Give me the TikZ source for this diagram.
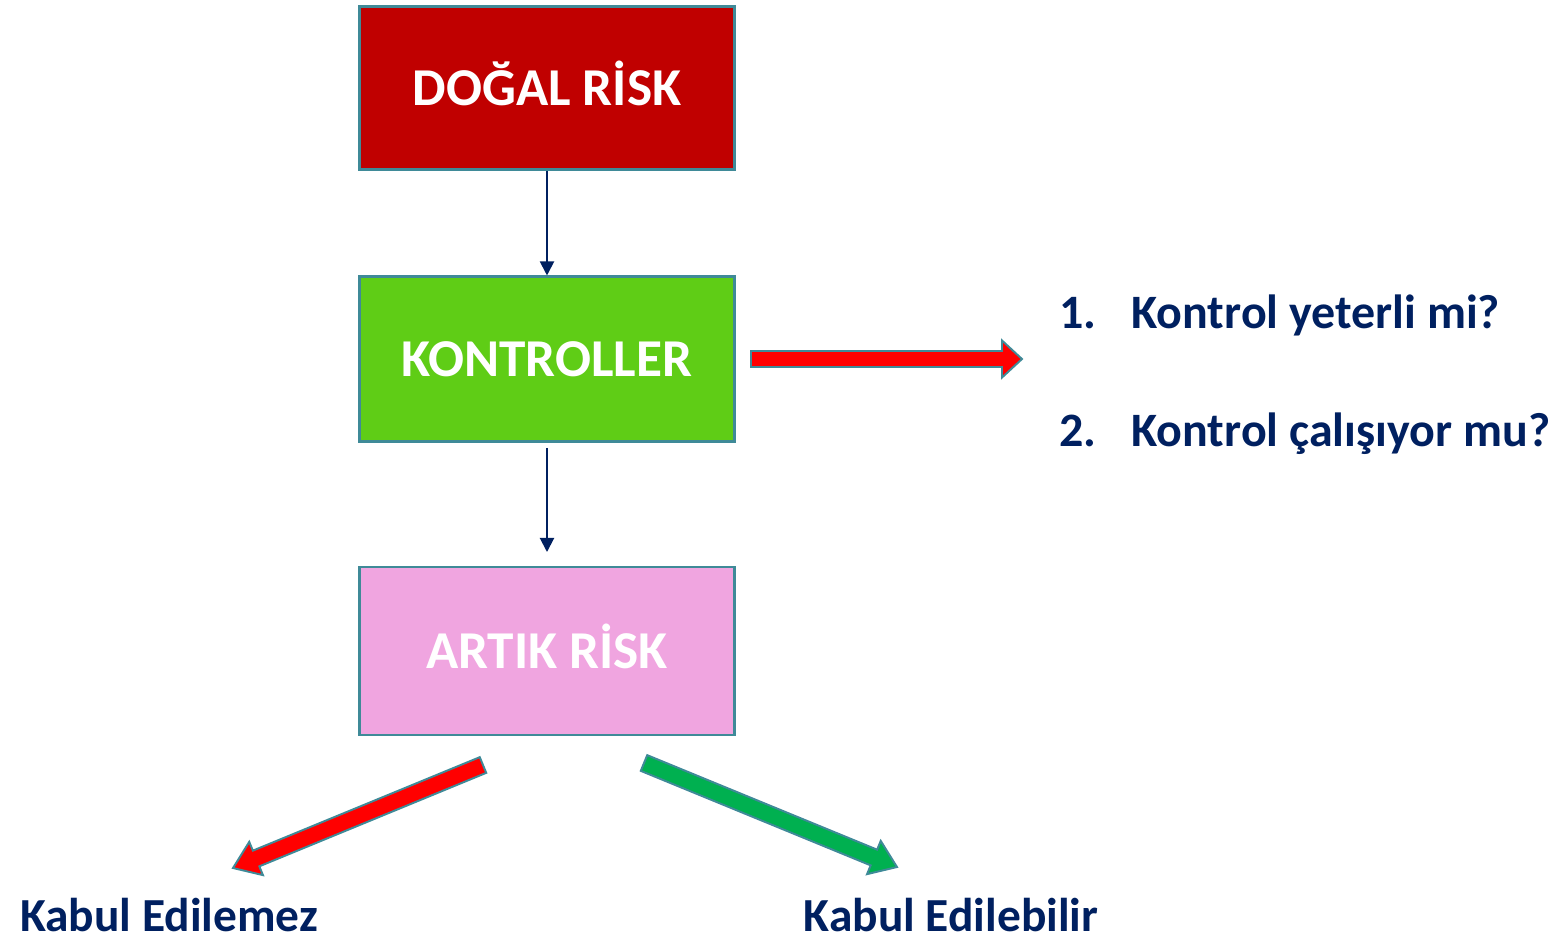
\documentclass[tikz,border=0pt]{standalone}
\usepackage{fontspec}
\setmainfont{Carlito}
\usetikzlibrary{arrows.meta,calc}
\definecolor{navy}{HTML}{002060}
\definecolor{edge}{HTML}{3F8A98}
\definecolor{dogalred}{HTML}{C00000}
\definecolor{kontgreen}{HTML}{5FCD16}
\definecolor{artikpink}{HTML}{F0A5E0}
\definecolor{okgreen}{HTML}{00B050}
\tikzset{
    riskbox/.style={draw=edge,line width=1.2pt,minimum width=7.5cm,minimum height=3.3cm,
        text=white,text height=19.5pt,text depth=0pt,font=\fontsize{30.3}{35}\selectfont\bfseries},
    thinarrow/.style={draw=navy,line width=1.1pt,-{Triangle[width=8pt,length=8pt]}},
    bigarrow/.style={draw=edge,line width=1.1pt,line join=miter},
    itemtext/.style={text=navy,anchor=base west,inner sep=0pt,font=\fontsize{27.3}{32}\selectfont\bfseries},
    kabultext/.style={text=navy,anchor=base,inner sep=0pt,text depth=0pt,font=\fontsize{27}{32}\selectfont\bfseries}
}
% #1 tail, #2 tip, #3 fill, #4 half shaft, #5 half head, #6 head length
\newcommand\blockarrow[6]{%
    \path (#1) coordinate (ba-t) (#2) coordinate (ba-h);
    \path ($(ba-h)!#6!(ba-t)$) coordinate (ba-n);
    \filldraw[bigarrow,fill=#3] ($(ba-t)!#4!90:(ba-h)$) -- ($(ba-n)!#4!-90:(ba-t)$)
        -- ($(ba-n)!#5!-90:(ba-t)$) -- (ba-h) -- ($(ba-n)!#5!90:(ba-t)$)
        -- ($(ba-n)!#4!90:(ba-t)$) -- ($(ba-t)!#4!-90:(ba-h)$) -- cycle;
}
\begin{document}
\begin{tikzpicture}[x=0.02cm,y=-0.02cm]
    \useasboundingbox (0,0) rectangle (1559,938);
    \node[riskbox,fill=dogalred,minimum height=3.26cm] (dogal) at (547,88) {DOĞAL RİSK};
    \node[riskbox,fill=kontgreen] (kontrol) at (547,359) {KONTROLLER};
    \node[riskbox,fill=artikpink,minimum height=3.36cm] (artik) at (547,651) {ARTIK RİSK};
    \coordinate (K) at (547,552);

    \draw[thinarrow] (dogal) -- (kontrol);
    \draw[thinarrow] ([yshift=-3pt]kontrol.south) -- (K);

    \coordinate (R1) at (751,359);
    \coordinate (R2) at (1022,359);
    \blockarrow{R1}{R2}{red}{0.16cm}{0.37cm}{0.4cm}

    \node[itemtext] (i1) at (1059,328) {1.};
    \node[itemtext] (q1) at (1131,328) {Kontrol yeterli mi?};
    \node[itemtext] (i2) at (1059,446) {2.};
    \node[itemtext] (q2) at (1131,446) {Kontrol çalışıyor mu?};

    \coordinate (A1) at (483,765);
    \coordinate (A2) at (233,868);
    \blockarrow{A1}{A2}{red}{0.17cm}{0.36cm}{0.5cm}
    \coordinate (B1) at (644,763);
    \coordinate (B2) at (897,867);
    \blockarrow{B1}{B2}{okgreen}{0.17cm}{0.36cm}{0.5cm}

    \node[kabultext] (red) at (169,931) {Kabul Edilemez};
    \node[kabultext] (ok) at (951,931) {Kabul Edilebilir};
\end{tikzpicture}
\end{document}
